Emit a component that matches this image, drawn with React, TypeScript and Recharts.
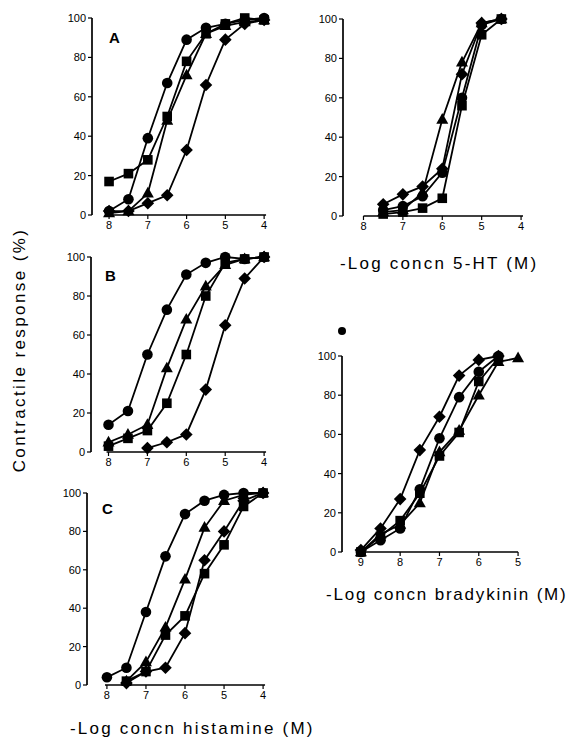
import React from 'react';
import { LineChart, Line, XAxis, YAxis, ReferenceLine } from 'recharts';

// -log molar concentrations
const histDoses = [8, 7.5, 7, 6.5, 6, 5.5, 5, 4.5, 4];
const htDoses = [7.5, 7, 6.5, 6, 5.5, 5, 4.5];
const bkDoses = [9, 8.5, 8, 7.5, 7, 6.5, 6, 5.5, 5];

const histTicks = [8, 7, 6, 5, 4];
const bkTicks = [9, 8, 7, 6, 5];
const yTicks = [0, 20, 40, 60, 80, 100];

// panel A (histamine)
const aCircle = [2, 8, 39, 67, 89, 95, 97, 99, 100];
const aTriangle = [1, 2, 11, 48, 71, 92, 96, 98, 99];
const aSquare = [17, 21, 28, 50, 78, 92, 97, 100, 99];
const aDiamond = [2, 2, 6, 10, 33, 66, 89, 97, 99];

// panel B (histamine)
const bCircle = [14, 21, 50, 73, 91, 97, 100, 99, 100];
const bTriangle = [5, 9, 14, 43, 68, 85, 96, 99, 100];
const bSquare = [3, 7, 11, 25, 50, 80, 97, 99, 100];
const bDiamond = [null, null, 2, 5, 9, 32, 65, 89, 100];

// panel C (histamine)
const cCircle = [4, 9, 38, 67, 89, 96, 99, 100, 100];
const cTriangle = [null, 2, 12, 30, 55, 82, 96, 99, 100];
const cSquare = [null, 2, 7, 26, 36, 58, 73, 93, 100];
const cDiamond = [null, 1, 7, 9, 27, 65, 80, 96, 100];

// 5-HT
const htCircle = [3, 5, 10, 22, 60, 97, 100];
const htTriangle = [2, 3, 12, 49, 78, 98, 100];
const htSquare = [1, 2, 4, 9, 56, 92, 100];
const htDiamond = [6, 11, 15, 24, 72, 98, 100];

// bradykinin
const bkCircle = [0, 6, 12, 32, 58, 79, 92, 100, null];
const bkTriangle = [0, 9, 14, 25, 51, 62, 80, 97, 99];
const bkSquare = [0, 8, 16, 30, 49, 61, 87, 99, null];
const bkDiamond = [1, 12, 27, 52, 69, 90, 98, 100, null];

const FONT = '"Liberation Sans", Arial, Helvetica, sans-serif';

function buildRows(doses: number[], circle: any[], triangle: any[], square: any[], diamond: any[]) {
  return doses.map((x, i) => ({
    x,
    circle: circle[i],
    triangle: triangle[i],
    square: square[i],
    diamond: diamond[i],
  }));
}

function marker(kind: string) {
  return (p: any) => {
    const { cx, cy, index } = p;
    const key = `${kind}-${index}`;
    if (cx == null || cy == null || p.value == null) return <g key={key} />;
    if (kind === 'circle') return <circle key={key} cx={cx} cy={cy} r={5.3} fill="#000" />;
    if (kind === 'square') return <rect key={key} x={cx - 4.8} y={cy - 4.8} width={9.6} height={9.6} fill="#000" />;
    if (kind === 'triangle')
      return <polygon key={key} points={`${cx},${cy - 6.5} ${cx + 6},${cy + 4.2} ${cx - 6},${cy + 4.2}`} fill="#000" />;
    return <polygon key={key} points={`${cx},${cy - 6.3} ${cx + 6.3},${cy} ${cx},${cy + 6.3} ${cx - 6.3},${cy}`} fill="#000" />;
  };
}

const SERIES = ['diamond', 'square', 'triangle', 'circle'];

type PanelProps = {
  rows: any[];
  left: number;
  top: number;
  plotW: number;
  plotH: number;
  domain: [number, number];
  ticks: number[];
  axisFrom: number;
  axisTo: number;
  letter?: string;
  letterPos?: [number, number];
};

function Panel({ rows, left, top, plotW, plotH, domain, ticks, axisFrom, axisTo, letter, letterPos }: PanelProps) {
  const yw = 45;
  const mt = 12;
  const mr = 12;
  const xh = 30;
  return (
    <div style={{ position: 'absolute', left: left - yw, top: top - mt }}>
      <LineChart
        width={yw + plotW + mr}
        height={mt + plotH + xh}
        data={rows}
        margin={{ top: mt, right: mr, bottom: 0, left: 0 }}
      >
        <XAxis
          type="number"
          dataKey="x"
          domain={domain}
          reversed
          ticks={ticks}
          axisLine={false}
          tickLine={{ stroke: '#000', strokeWidth: 1.2 }}
          tickSize={4}
          height={xh}
          tick={{ fill: '#000', fontSize: 11, fontFamily: FONT }}
          interval={0}
        />
        <YAxis
          type="number"
          domain={[0, 100]}
          ticks={yTicks}
          width={yw}
          axisLine={{ stroke: '#000', strokeWidth: 1.7 }}
          tickLine={{ stroke: '#000', strokeWidth: 1.2 }}
          tickSize={4}
          tickMargin={2}
          tick={{ fill: '#000', fontSize: 11, fontFamily: FONT }}
          interval={0}
        />
        <ReferenceLine
          segment={[
            { x: axisFrom, y: 0 },
            { x: axisTo, y: 0 },
          ]}
          stroke="#000"
          strokeWidth={1.7}
        />
        {SERIES.map((s) => (
          <Line
            key={s}
            dataKey={s}
            type="linear"
            stroke="#000"
            strokeWidth={1.8}
            dot={marker(s)}
            activeDot={false}
            isAnimationActive={false}
          />
        ))}
      </LineChart>
      {letter && letterPos && (
        <div
          style={{
            position: 'absolute',
            left: letterPos[0],
            top: letterPos[1],
            fontFamily: FONT,
            fontWeight: 'bold',
            fontSize: 15,
            color: '#000',
          }}
        >
          {letter}
        </div>
      )}
    </div>
  );
}

const titleStyle: React.CSSProperties = {
  position: 'absolute',
  fontFamily: FONT,
  fontSize: 17,
  letterSpacing: 2.2,
  color: '#000',
  whiteSpace: 'nowrap',
  lineHeight: '20px',
};

export default function App() {
  return (
    <div style={{ position: 'absolute', left: 0, top: 0, width: 578, height: 740, background: '#fff', overflow: 'hidden' }}>
      <Panel
        rows={buildRows(histDoses, aCircle, aTriangle, aSquare, aDiamond)}
        left={92}
        top={18}
        plotW={176}
        plotH={197}
        domain={[3.9, 8.44]}
        ticks={histTicks}
        axisFrom={8.05}
        axisTo={3.95}
        letter="A"
        letterPos={[62, 23]}
      />
      <Panel
        rows={buildRows(htDoses, htCircle, htTriangle, htSquare, htDiamond)}
        left={343}
        top={19}
        plotW={182}
        plotH={197}
        domain={[3.9, 8.52]}
        ticks={histTicks}
        axisFrom={8.0}
        axisTo={3.95}
      />
      <Panel
        rows={buildRows(histDoses, bCircle, bTriangle, bSquare, bDiamond)}
        left={91}
        top={257}
        plotW={177}
        plotH={195}
        domain={[3.9, 8.45]}
        ticks={histTicks}
        axisFrom={8.05}
        axisTo={3.95}
        letter="B"
        letterPos={[59, 22]}
      />
      <Panel
        rows={buildRows(histDoses, cCircle, cTriangle, cSquare, cDiamond)}
        left={87}
        top={493}
        plotW={180}
        plotH={192}
        domain={[3.9, 8.51]}
        ticks={histTicks}
        axisFrom={8.05}
        axisTo={3.95}
        letter="C"
        letterPos={[60, 19]}
      />
      <Panel
        rows={buildRows(bkDoses, bkCircle, bkTriangle, bkSquare, bkDiamond)}
        left={342}
        top={356}
        plotW={180}
        plotH={196}
        domain={[4.9, 9.48]}
        ticks={bkTicks}
        axisFrom={9.05}
        axisTo={5.0}
      />

      <div style={{ ...titleStyle, left: 340, top: 254 }}>-Log concn 5-HT (M)</div>
      <div style={{ ...titleStyle, left: 326, top: 585, letterSpacing: 1.8 }}>-Log concn bradykinin (M)</div>
      <div style={{ ...titleStyle, left: 70, top: 719 }}>-Log concn histamine (M)</div>
      <div
        style={{
          ...titleStyle,
          left: 20,
          top: 350,
          letterSpacing: 2.4,
          transform: 'translate(-50%, -50%) rotate(-90deg)',
        }}
      >
        Contractile response (%)
      </div>
      <div
        style={{ position: 'absolute', left: 338, top: 327, width: 8, height: 8, borderRadius: 4, background: '#000' }}
      />
    </div>
  );
}
